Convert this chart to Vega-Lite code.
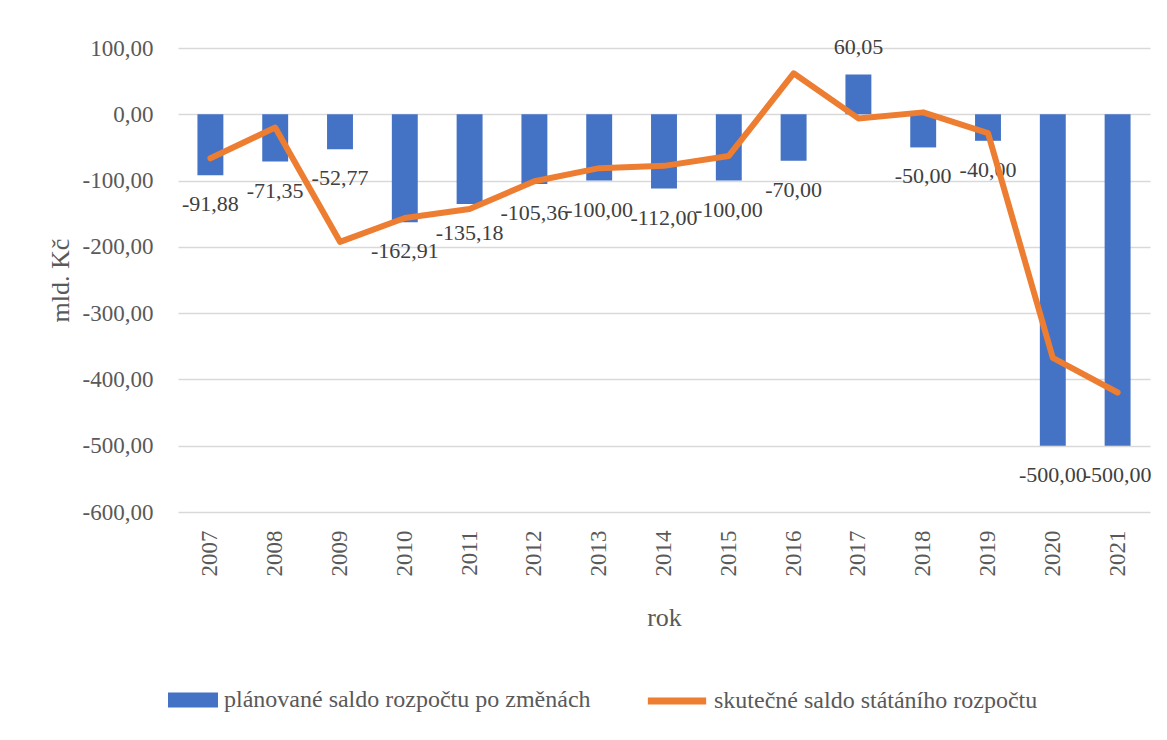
{
  "$schema": "https://vega.github.io/schema/vega-lite/v6.json",
  "autosize": {"type": "none"},
  "width": 972,
  "height": 464,
  "padding": {"left": 178, "top": 48, "right": 17, "bottom": 228},
  "background": "white",
  "config": {
    "locale": {"number": {"decimal": ",", "thousands": " ", "grouping": [3], "currency": ["", " Kč"], "minus": "-"}},
    "view": {"stroke": null},
    "font": "Liberation Serif",
    "axis": {"labelFont": "Liberation Serif", "titleFont": "Liberation Serif", "labelColor": "#595959", "titleColor": "#595959", "titleFontWeight": "normal"},
    "legend": {"labelFont": "Liberation Serif", "labelColor": "#595959", "labelLimit": 0}
  },
  "data": {
    "values": [
      {"year": "2007", "plan": -91.88, "actual": -66.4},
      {"year": "2008", "plan": -71.35, "actual": -20.0},
      {"year": "2009", "plan": -52.77, "actual": -192.4},
      {"year": "2010", "plan": -162.91, "actual": -156.4},
      {"year": "2011", "plan": -135.18, "actual": -142.8},
      {"year": "2012", "plan": -105.36, "actual": -101.0},
      {"year": "2013", "plan": -100.0, "actual": -81.3},
      {"year": "2014", "plan": -112.0, "actual": -77.8},
      {"year": "2015", "plan": -100.0, "actual": -62.8},
      {"year": "2016", "plan": -70.0, "actual": 61.8},
      {"year": "2017", "plan": 60.05, "actual": -6.2},
      {"year": "2018", "plan": -50.0, "actual": 2.9},
      {"year": "2019", "plan": -40.0, "actual": -28.5},
      {"year": "2020", "plan": -500.0, "actual": -367.4},
      {"year": "2021", "plan": -500.0, "actual": -419.7}
    ]
  },
  "encoding": {
    "x": {
      "field": "year", "type": "ordinal",
      "scale": {"paddingInner": 0.6, "paddingOuter": 0.3},
      "axis": {"title": "rok", "labelAngle": -90, "labelFontSize": 23, "labelPadding": 18, "ticks": false, "domain": false, "titleFontSize": 26, "titleY": 105, "titleBaseline": "middle"}
    }
  },
  "layer": [
    {
      "mark": {"type": "bar"},
      "encoding": {
        "y": {
          "field": "plan", "type": "quantitative",
          "scale": {"domain": [-600, 100], "nice": false},
          "axis": {"title": "mld. Kč", "format": ".2f", "values": [-600, -500, -400, -300, -200, -100, 0, 100], "labelOverlap": false, "labelFontSize": 23, "labelPadding": 25, "ticks": false, "domain": false, "gridColor": "#D9D9D9", "gridWidth": 1.5, "titleFontSize": 26, "titleX": -118, "titleBaseline": "middle"}
        },
        "fill": {
          "datum": "plánované saldo rozpočtu po změnách",
          "scale": {"range": ["#4472C4"]},
          "legend": {"title": null, "orient": "none", "legendX": -10, "legendY": 627, "symbolType": "M-1,-0.3H1V0.3H-1Z", "symbolSize": 2500, "symbolStrokeWidth": 0, "labelFontSize": 24, "labelOffset": 6}
        }
      }
    },
    {
      "transform": [{"filter": "datum.plan < 0"}],
      "mark": {"type": "text", "dy": 29, "baseline": "middle", "fontSize": 22, "color": "#404040", "font": "Liberation Serif"},
      "encoding": {
        "y": {"field": "plan", "type": "quantitative"},
        "text": {"field": "plan", "type": "quantitative", "format": ".2f"}
      }
    },
    {
      "transform": [{"filter": "datum.plan >= 0"}],
      "mark": {"type": "text", "dy": -27, "baseline": "middle", "fontSize": 22, "color": "#404040", "font": "Liberation Serif"},
      "encoding": {
        "y": {"field": "plan", "type": "quantitative"},
        "text": {"field": "plan", "type": "quantitative", "format": ".2f"}
      }
    },
    {
      "mark": {"type": "line", "strokeWidth": 6, "strokeJoin": "round", "strokeCap": "round"},
      "encoding": {
        "y": {"field": "actual", "type": "quantitative"},
        "stroke": {
          "datum": "skutečné saldo státáního rozpočtu",
          "scale": {"range": ["#ED7D31"]},
          "legend": {"title": null, "orient": "none", "legendX": 466, "legendY": 620, "symbolType": "stroke", "symbolSize": 3400, "symbolStrokeWidth": 7, "labelFontSize": 24, "labelOffset": 4}
        }
      }
    }
  ]
}
